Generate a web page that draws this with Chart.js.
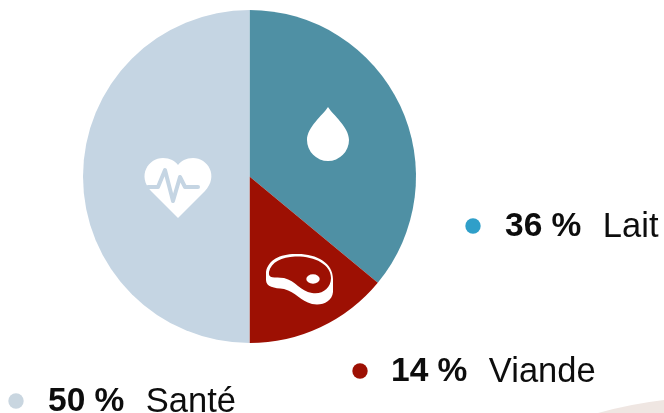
<!DOCTYPE html>
<html><head><meta charset="utf-8">
<style>html,body{margin:0;padding:0;background:#fff}#w{position:relative;width:664px;height:413px;overflow:hidden}canvas{position:absolute;left:0;top:0}</style>
<script src="https://cdn.jsdelivr.net/npm/chart.js@4"></script></head>
<body><div id="w"><canvas id="c" width="664" height="413"></canvas></div>
<script>
const categories=["Lait","Viande","Santé"];
const values=[36,14,50];
const sliceColors=["#4f90a4","#9d1003","#c5d5e3"];
const dotColors=["#2f9fc9","#9d1003","#c9d6e0"];
const font='"Liberation Sans"';
const labelPos=[{dot:[473,226],x:505,y:227},{dot:[360,371],x:391,y:372},{dot:[16,401],x:48,y:402}];
const overlay={id:'overlay',afterDraw(ch){
 const c=ch.ctx;c.save();
 c.fillStyle='#efe6e2';c.beginPath();c.moveTo(598,413);c.quadraticCurveTo(630,404,664,400);c.lineTo(664,413);c.closePath();c.fill();
 c.textBaseline='middle';
 categories.forEach((n,i)=>{const p=labelPos[i];
  c.fillStyle=dotColors[i];c.beginPath();c.arc(p.dot[0],p.dot[1],7.7,0,Math.PI*2);c.fill();
  c.fillStyle='#0d0d0d';c.font='bold 33.5px '+font;const t=values[i]+' %';c.fillText(t,p.x,p.y);
  const w=c.measureText(t).width;c.font='34.5px '+font;c.fillText(n,p.x+w+21.5,p.y);
 });
 // drop
 c.fillStyle='#fff';c.beginPath();c.moveTo(328,107);c.bezierCurveTo(333,115,349,127,349,140);c.arc(328,140,21,0,Math.PI);c.bezierCurveTo(307,127,323,115,328,107);c.closePath();c.fill();
 // heart
 c.beginPath();c.moveTo(178,218);c.lineTo(151,191);c.bezierCurveTo(137,176,148,158,163,158);c.bezierCurveTo(170,158,175,161,178,165);c.bezierCurveTo(181,161,186,158,193,158);c.bezierCurveTo(208,158,219,176,205,191);c.closePath();c.fill();
 c.strokeStyle='#c5d5e3';c.lineWidth=4;c.lineCap='round';c.lineJoin='round';c.beginPath();c.moveTo(148,187);c.lineTo(158,187);c.lineTo(165,170);c.lineTo(173,201);c.lineTo(180,177);c.lineTo(185,187);c.lineTo(198,187);c.stroke();
 // meat
 c.fillStyle='#fff';c.beginPath();c.moveTo(266,272);c.bezierCurveTo(268,260,280,254,295,254);c.bezierCurveTo(315,253,333,262,333,279);c.lineTo(333,292);c.bezierCurveTo(332,302,322,306,312,304);c.bezierCurveTo(300,301,296,292,284,289);c.bezierCurveTo(274,288,266,287,266,280);c.closePath();c.fill();
 c.fillStyle='#9d1003';c.beginPath();c.moveTo(269,272);c.bezierCurveTo(271,262,282,257,295,256.5);c.bezierCurveTo(314,256,331,264,331,278);c.bezierCurveTo(331,288,322,295,312,293);c.bezierCurveTo(300,291,296,281,284,278);c.bezierCurveTo(274,277,268,279,269,272);c.closePath();c.fill();
 c.fillStyle='#fff';c.beginPath();c.ellipse(313,279,6.7,4.7,0,0,Math.PI*2);c.fill();
 c.restore();
}};
new Chart(document.getElementById('c'),{type:'pie',
 data:{labels:categories,datasets:[{data:values,backgroundColor:sliceColors,borderWidth:0}]},
 options:{responsive:false,animation:false,
  layout:{padding:{left:83,right:248,top:10,bottom:70}},
  plugins:{legend:{display:false},tooltip:{enabled:false}}},
 plugins:[overlay]});
</script></body></html>
